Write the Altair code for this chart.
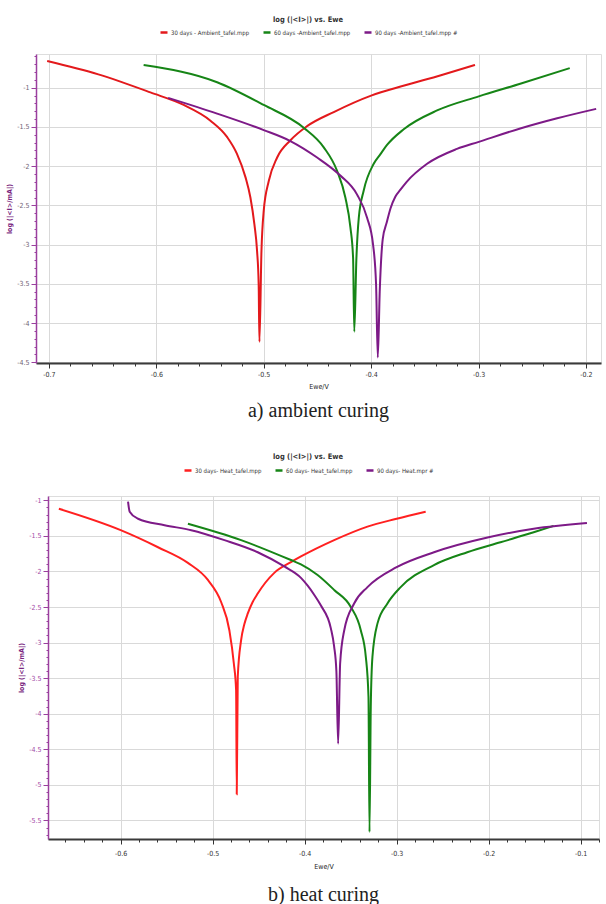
import altair as alt
import pandas as pd

# ---------------- data ----------------
# a) ambient curing
amb_series = ["30 days - Ambient_tafel.mpp", "60 days -Ambient_tafel.mpp", "90 days -Ambient_tafel.mpp #"]
amb30_E = [-0.7016, -0.654, -0.6055, -0.5745, -0.5496, -0.534, -0.525, -0.517, -0.5124, -0.5087,
           -0.5062, -0.5047, -0.504, -0.5021, -0.500, -0.4953, -0.4875, -0.4751, -0.4596, -0.4348,
           -0.400, -0.370, -0.335, -0.3033]
amb30_logI = [-0.66, -0.83, -1.06, -1.22, -1.42, -1.63, -1.84, -2.14, -2.40, -2.74,
              -3.08, -3.51, -4.24, -3.08, -2.57, -2.19, -1.89, -1.67, -1.49, -1.31,
              -1.10, -0.975, -0.84, -0.71]
amb60_E = [-0.6118, -0.5434, -0.500, -0.4628, -0.4441, -0.4317, -0.424, -0.4193, -0.4168, -0.4157,
           -0.4137, -0.4115, -0.4069, -0.3976, -0.3915, -0.3852, -0.3697, -0.3386, -0.2998, -0.2612,
           -0.2151]
amb60_logI = [-0.71, -0.93, -1.22, -1.51, -1.76, -2.06, -2.40, -2.78, -3.17, -4.11,
              -3.17, -2.66, -2.31, -1.97, -1.85, -1.73, -1.53, -1.29, -1.11, -0.95,
              -0.75]
amb90_E = [-0.589, -0.5434, -0.500, -0.4752, -0.4503, -0.4287, -0.4132, -0.4037, -0.3982, -0.3954,
           -0.3938, -0.392, -0.3892, -0.3855, -0.382, -0.3775, -0.3727, -0.3669, -0.3479, -0.3201,
           -0.2998, -0.2612, -0.2268, -0.1905]
amb90_logI = [-1.13, -1.33, -1.54, -1.68, -1.89, -2.12, -2.36, -2.66, -3.00, -3.51,
              -4.44, -3.60, -2.93, -2.72, -2.54, -2.39, -2.30, -2.20, -1.97, -1.78,
              -1.69, -1.52, -1.39, -1.27]

# b) heat curing
heat_series = ["30 days- Heat_tafel.mpp", "60 days- Heat_tafel.mpp", "90 days- Heat.mpr #"]
heat30_E = [-0.6672, -0.600, -0.5594, -0.5269, -0.5052, -0.4908, -0.4818, -0.477, -0.4745, -0.4738,
            -0.4727, -0.4691, -0.4655, -0.4618, -0.4565, -0.451, -0.433, -0.4149, -0.404, -0.3679,
            -0.3317, -0.300, -0.2684]
heat30_logI = [-1.12, -1.42, -1.66, -1.88, -2.12, -2.43, -2.83, -3.29, -3.67, -5.13,
               -3.48, -2.97, -2.74, -2.59, -2.43, -2.31, -2.02, -1.87, -1.79, -1.56,
               -1.37, -1.26, -1.16]
heat60_E = [-0.5269, -0.4691, -0.4149, -0.404, -0.3859, -0.3679, -0.3498, -0.3389, -0.3335, -0.3306,
            -0.3295, -0.3281, -0.3263, -0.3208, -0.310, -0.2956, -0.2594, -0.2232, -0.1871, -0.151,
            -0.1293]
heat60_logI = [-1.33, -1.56, -1.84, -1.90, -2.05, -2.26, -2.50, -2.83, -3.20, -3.76,
               -5.66, -3.90, -3.20, -2.73, -2.45, -2.22, -1.91, -1.73, -1.59, -1.45,
               -1.36]
heat90_E = [-0.592, -0.5902, -0.5811, -0.5523, -0.5233, -0.4872, -0.451, -0.4221, -0.404, -0.3967,
            -0.390, -0.3823, -0.3715, -0.368, -0.3655, -0.3636, -0.3614, -0.357, -0.3462, -0.3317,
            -0.300, -0.2594, -0.200, -0.151, -0.0931]
heat90_logI = [-1.02, -1.16, -1.26, -1.35, -1.42, -1.56, -1.73, -1.93, -2.09, -2.20,
               -2.32, -2.48, -2.80, -3.05, -3.40, -4.42, -3.29, -2.83, -2.45, -2.22,
               -1.94, -1.73, -1.52, -1.40, -1.32]

# axis tick positions (major labelled, minor unlabelled)
amb_x_ticks = [round(-0.70 + 0.02 * i, 2) for i in range(26)]
amb_y_ticks = [round(-4.5 + 0.1 * i, 1) for i in range(40)]
heat_x_ticks = [round(-0.66 + 0.02 * i, 2) for i in range(30)]
heat_y_ticks = [round(-5.7 + 0.1 * i, 1) for i in range(48)]

FONT = "Liberation Sans Narrow, Arial Narrow, DejaVu Sans Condensed, Liberation Sans, sans-serif"
PURPLE_AXIS = "#9a3f9e"


def frame(names, Es, Ls):
    rows = []
    for n, E, L in zip(names, Es, Ls):
        for e, l in zip(E, L):
            rows.append({"E": e, "logI": l, "series": n})
    return pd.DataFrame(rows)


def panel(df, names, colors, xdom, ydom, xticks, yticks, width, height, caption,
          legend_x, legend_y, legend_tpad, ext_x, ylab_color, x_lab_pad, x_title_pad, cap_offset):
    xmaj = "abs(datum.value*10 - round(datum.value*10)) < 0.001"
    ymaj = "abs(datum.value*2 - round(datum.value*2)) < 0.001"
    xaxis = alt.Axis(
        values=xticks, title="Ewe/V",
        labelExpr=f"{xmaj} ? '-' + format(abs(datum.value), '.1f') : ''",
        labelOverlap=False, labelFlush=False,
        labelFont=FONT, labelFontSize=7, labelColor="#333", labelPadding=x_lab_pad,
        titleFont=FONT, titleFontSize=7, titleFontWeight="normal", titleColor="#222",
        titlePadding=x_title_pad,
        domainColor="#3a3a3a", domainWidth=2,
        tickColor="#333",
        tickSize={"condition": {"test": xmaj, "value": 5}, "value": 3},
        gridColor="#d9d9d9", gridWidth=1,
        gridOpacity={"condition": {"test": xmaj, "value": 1}, "value": 0},
    )
    yaxis = alt.Axis(
        values=yticks, title="log (|<I>/mA|)",
        labelExpr=f"{ymaj} ? '-' + format(abs(datum.value), '~g') : ''",
        labelOverlap=False, labelFlush=False,
        labelFont=FONT, labelFontSize=7, labelColor=ylab_color, labelPadding=2,
        titleFont=FONT, titleFontSize=7, titleFontWeight="bold", titleColor="#7a1f80",
        titlePadding=4,
        domainColor=PURPLE_AXIS, domainWidth=1.5,
        tickColor=PURPLE_AXIS,
        tickSize={"condition": {"test": ymaj, "value": 5}, "value": 2},
        gridColor="#d9d9d9", gridWidth=1,
        gridOpacity={"condition": {"test": ymaj, "value": 1}, "value": 0},
    )
    lines = alt.Chart(df).mark_line(strokeWidth=2, interpolate="monotone", clip=True).encode(
        x=alt.X("E:Q", scale=alt.Scale(domain=xdom, nice=False, zero=False), axis=xaxis),
        y=alt.Y("logI:Q", scale=alt.Scale(domain=ydom, nice=False, zero=False), axis=yaxis),
        color=alt.Color(
            "series:N",
            scale=alt.Scale(domain=names, range=colors),
            legend=alt.Legend(
                title="log (|<I>|) vs. Ewe", orient="none", legendX=legend_x, legendY=legend_y,
                direction="horizontal", titleAnchor="middle", titleFont=FONT, titleFontSize=7.5,
                titleFontWeight="bold", titleColor="#333", titlePadding=legend_tpad,
                labelFont=FONT, labelFontSize=6, labelColor="#333", labelOffset=2,
                symbolType="stroke", symbolSize=49, symbolStrokeWidth=2.5, columnPadding=8,
            ),
        ),
        order=alt.Order("E:Q"),
    )
    layers = [lines]
    if ext_x is not None:
        layers.append(
            alt.Chart(pd.DataFrame({"k": [0]})).mark_rule(color="white", strokeWidth=1).encode(
                x=alt.value(ext_x), x2=alt.value(ext_x + 1), y=alt.value(height / 2)
            )
        )
    return alt.layer(*layers).properties(
        width=width, height=height,
        title=alt.TitleParams(text=caption, orient="bottom", anchor="middle", font="Liberation Serif",
                              fontSize=20, fontWeight="normal", color="#222", offset=cap_offset),
    )


df_amb = frame(amb_series, [amb30_E, amb60_E, amb90_E], [amb30_logI, amb60_logI, amb90_logI])
df_heat = frame(heat_series, [heat30_E, heat60_E, heat90_E], [heat30_logI, heat60_logI, heat90_logI])

top = panel(df_amb, amb_series, ["#e3191c", "#168516", "#7d1a87"],
            [-0.712, -0.186], [-4.51, -0.57], amb_x_ticks, amb_y_ticks, 565, 309,
            "a) ambient curing", 123, -38, 4, -33, "#6f5f74", 2.5, 5, 11)
bottom = panel(df_heat, heat_series, ["#ff2020", "#168516", "#7d1a87"],
               [-0.679, -0.080], [-5.76, -0.94], heat_x_ticks, heat_y_ticks, 551, 343,
               "b) heat curing", 147, -43, 5, None, "#a24aa6", 5.5, 6, 15)

# small blank cell that shifts the lower panel 12 px to the right of the upper one
shift = alt.Chart(pd.DataFrame({"k": [0]})).mark_point(opacity=0).properties(
    width=12, height=1, view=alt.ViewBackground(stroke="transparent")
)
bottom_row = alt.hconcat(shift, bottom, spacing=0, bounds="flush")

chart = alt.concat(top, bottom_row, columns=1, spacing=32).resolve_scale(
    color="independent", x="independent", y="independent"
).resolve_legend(color="independent").properties(
    padding={"left": 2, "top": 15, "right": 2, "bottom": 2}
).configure_view(stroke="#d6d6d6").configure(background="white")

chart.save("out.html", embed_options={"renderer": "svg", "actions": False})
